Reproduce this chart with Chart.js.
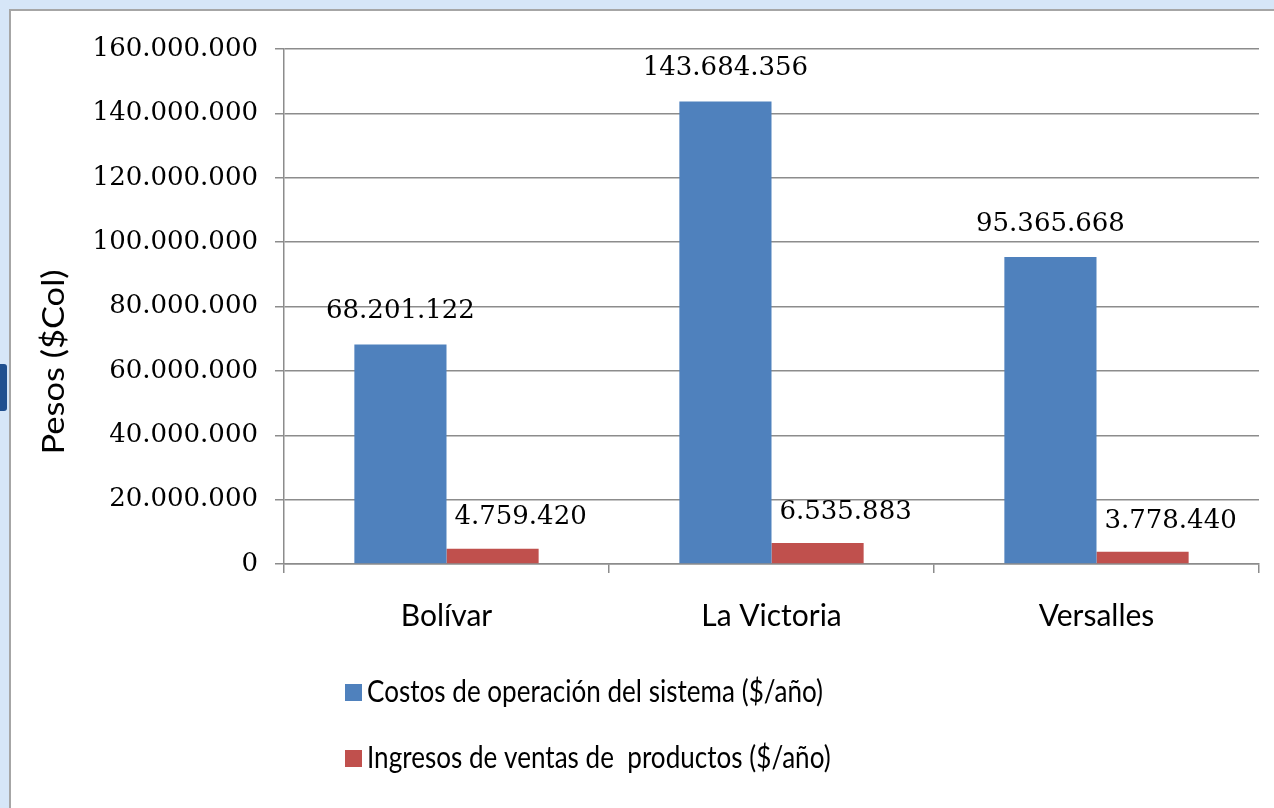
<!DOCTYPE html>
<html>
<head>
<meta charset="utf-8">
<script src="https://cdn.jsdelivr.net/npm/chart.js@4.4.1/dist/chart.umd.min.js"></script>
<style>
  html, body { margin: 0; padding: 0; width: 1274px; height: 808px; overflow: hidden; background: #d6e6f8; }
  #box { position: absolute; left: 9px; top: 9px; width: 1300px; height: 850px; background: #ffffff; border: 2px solid #a6a6a6; box-sizing: border-box; }
  #tab { position: absolute; left: 0; top: 364px; width: 7px; height: 47px; background: #1f4f8f; border-radius: 0 3px 3px 0; }
  #c { position: absolute; left: 0; top: 0; }
</style>
</head>
<body>
<div id="box"></div>
<div id="tab"></div>
<canvas id="c" width="1274" height="808"></canvas>
<script>
const categories = ['Bolívar', 'La Victoria', 'Versalles'];
const costos = [68201122, 143684356, 95365668];
const ingresos = [4759420, 6535883, 3778440];
const seriesNames = ['Costos de operación del sistema ($/año)', 'Ingresos de ventas de  productos ($/año)'];
const yTickValues = [0, 20000000, 40000000, 60000000, 80000000, 100000000, 120000000, 140000000, 160000000];
const yTitle = 'Pesos ($Col)';

const BLUE = '#4f81bd';
const RED = '#c0504d';
const GRID = '#8c8c8c';

function fmt(v) {
  return String(Math.round(v)).replace(/\B(?=(\d{3})+(?!\d))/g, '.');
}

const dataLabelPlugin = {
  id: 'dataLabels',
  afterDatasetsDraw(chart) {
    const ctx = chart.ctx;
    const dx = [0, 28];
    const dy = [33, 31];
    ctx.save();
    ctx.font = '26px "DejaVu Serif"';
    ctx.fillStyle = '#000';
    ctx.textAlign = 'center';
    ctx.textBaseline = 'middle';
    chart.data.datasets.forEach((ds, i) => {
      const meta = chart.getDatasetMeta(i);
      meta.data.forEach((bar, j) => {
        ctx.fillText(fmt(ds.data[j]), bar.x + dx[i], bar.y - dy[i]);
      });
    });
    ctx.restore();
  }
};

const extrasPlugin = {
  id: 'extras',
  afterDraw(chart) {
    const ctx = chart.ctx;
    ctx.save();
    // y-axis title
    ctx.font = '30px Lato';
    ctx.fillStyle = '#000';
    ctx.textAlign = 'center';
    ctx.textBaseline = 'middle';
    const tw = ctx.measureText(yTitle).width;
    ctx.translate(54, 362);
    ctx.rotate(-Math.PI / 2);
    ctx.scale(185 / tw, 1);
    ctx.fillText(yTitle, 0, 0);
    ctx.restore();

    // legend
    ctx.save();
    ctx.font = '31px Lato';
    ctx.textBaseline = 'middle';
    ctx.textAlign = 'left';
    const w0 = ctx.measureText(seriesNames[0]).width;
    const sx = 456 / w0;
    const colors = [BLUE, RED];
    const ys = [692, 758];
    seriesNames.forEach((name, i) => {
      ctx.fillStyle = colors[i];
      ctx.fillRect(345, ys[i] - 8, 17, 17);
      ctx.save();
      ctx.translate(367, ys[i]);
      ctx.scale(sx, 1);
      ctx.fillStyle = '#000';
      ctx.fillText(name, 0, 0);
      ctx.restore();
    });
    ctx.restore();
  }
};

new Chart(document.getElementById('c'), {
  type: 'bar',
  data: {
    labels: categories,
    datasets: [
      { label: seriesNames[0], data: costos, backgroundColor: BLUE, borderWidth: 0 },
      { label: seriesNames[1], data: ingresos, backgroundColor: RED, borderWidth: 0 }
    ]
  },
  options: {
    responsive: false,
    animation: false,
    categoryPercentage: 0.567,
    barPercentage: 1.0,
    layout: { padding: { left: 37, right: 15, top: 49, bottom: 154 } },
    plugins: {
      legend: { display: false },
      tooltip: { enabled: false }
    },
    scales: {
      x: {
        offset: true,
        grid: { offset: true, drawOnChartArea: false, drawTicks: true, tickLength: 9, color: GRID, lineWidth: 1.5 },
        border: { color: GRID, width: 1.5 },
        ticks: { color: '#000', font: { family: 'Lato', size: 30 }, padding: 25, maxRotation: 0 },
        afterFit(scale) { scale.height = 90; }
      },
      y: {
        min: 0,
        max: 160000000,
        afterBuildTicks(scale) { scale.ticks = yTickValues.map(v => ({ value: v })); },
        grid: { color: GRID, lineWidth: 1.5, drawTicks: true, tickLength: 9, tickColor: GRID },
        border: { color: GRID, width: 1.5 },
        ticks: {
          color: '#000',
          font: { family: 'DejaVu Serif', size: 26 },
          padding: 17,
          callback: (v) => fmt(v)
        },
        afterFit(scale) { scale.width = 247; }
      }
    }
  },
  plugins: [dataLabelPlugin, extrasPlugin]
});
</script>
</body>
</html>
